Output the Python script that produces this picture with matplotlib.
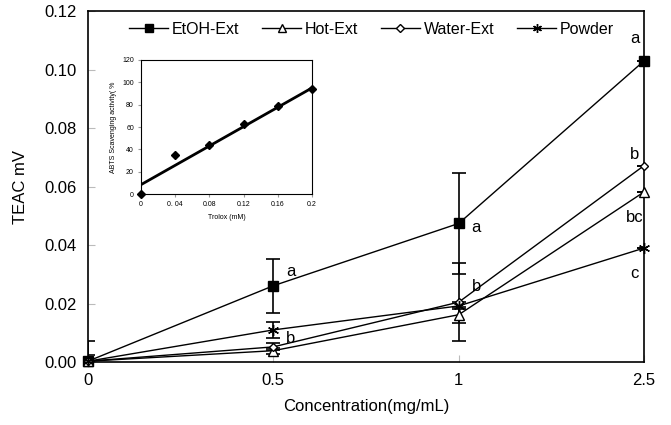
import numpy as np
import matplotlib.pyplot as plt
from matplotlib.lines import Line2D

plt.rcParams['font.family'] = ['Liberation Sans', 'DejaVu Sans']

conc_labels = ['0', '0.5', '1', '2.5']

etoh = [0.0003, 0.0261, 0.0474, 0.1030]
etoh_err = [0.0068, 0.0093, 0.0172, 0.0]
hot = [0.0003, 0.0039, 0.0162, 0.0582]
hot_err = [0.0, 0.0010, 0.0028, 0.0]
water = [0.0003, 0.0052, 0.0205, 0.0672]
water_err = [0.0022, 0.0012, 0.0133, 0.0]
powder = [0.0003, 0.0110, 0.0192, 0.0390]
powder_err = [0.0, 0.0028, 0.0012, 0.0]

# significance letters (concentration, y value, text)
letters = [
    (0.5, 0.0310, 'a'), (0.5, 0.0080, 'b'),
    (1, 0.0460, 'a'), (1, 0.0260, 'b'),
    (2.5, 0.1105, 'a'), (2.5, 0.0710, 'b'),
    (2.5, 0.0495, 'bc'), (2.5, 0.0303, 'c'),
]

# inset: Trolox standard curve
trolox = [0, 0.04, 0.08, 0.12, 0.16, 0.2]
abts = [0, 35, 44, 63, 79, 94]
fit_x = [0, 0.2]
fit_y = [8.5, 95]

fig = plt.figure(figsize=(6.71, 4.25), dpi=100)
ax = fig.add_axes([0.131, 0.148, 0.829, 0.826])
x = np.arange(len(conc_labels))

series = [
    ('EtOH-Ext', etoh, etoh_err, dict(marker='s', ms=6.5, mfc='black')),
    ('Hot-Ext', hot, hot_err, dict(marker='^', ms=6.5, mfc='white')),
    ('Water-Ext', water, water_err, dict(marker='D', ms=4.5, mfc='white')),
    ('Powder', powder, powder_err, dict(marker=(6, 2, 0), ms=8, mfc='black')),
]
handles = []
for name, vals, err, style in series:
    # error bars clipped to the axes, lines and markers not
    ax.errorbar(x, vals, yerr=err, fmt='none', ecolor='black',
                elinewidth=1.2, capsize=5, capthick=1.2, zorder=2)
    ax.plot(x, vals, color='black', lw=1, mec='black', mew=1,
            clip_on=False, zorder=3, **style)
    handles.append(Line2D([], [], color='black', lw=1, mec='black', mew=1,
                          label=name, **style))

xpos = {0.5: 1, 1: 2, 2.5: 3}
for xv, yv, t in letters:
    i = xpos[xv]
    if i < 3:
        ax.text(i + 0.07, yv, t, fontsize=12, ha='left', va='center')
    else:
        ax.text(i - 0.05, yv, t, fontsize=12, ha='center', va='center')

ax.set_xlim(0, 3)
ax.set_ylim(0, 0.12)
ax.set_xticks(x)
ax.set_xticklabels(conc_labels)
ax.set_yticks(np.arange(0, 0.121, 0.02))
ax.set_yticklabels([f'{v:.2f}' for v in np.arange(0, 0.121, 0.02)])
ax.tick_params(direction='in', length=5, color='#bbbbbb', labelsize=12, pad=8)
for s in ax.spines.values():
    s.set_linewidth(1.2)
ax.set_xlabel('Concentration(mg/mL)', fontsize=12, labelpad=8)
ax.set_ylabel('TEAC mV', fontsize=12, labelpad=12)
ax.legend(handles=handles, loc='upper center', ncol=4, frameon=False,
          fontsize=11.5, handlelength=2.4, columnspacing=1.45,
          handletextpad=0.25, markerscale=0.8, bbox_to_anchor=(0.51, 1.01))

ins = fig.add_axes([0.210, 0.543, 0.255, 0.316])
ins.plot(trolox, abts, 'D', color='black', ms=4, clip_on=False, zorder=3)
ins.plot(fit_x, fit_y, color='black', lw=2)
ins.set_xlim(0, 0.2)
ins.set_ylim(0, 120)
ins.set_xticks(trolox)
ins.set_xticklabels(['0', '0. 04', '0.08', '0.12', '0.16', '0.2'])
ins.set_yticks(range(0, 121, 20))
ins.tick_params(labelsize=5, length=2, color='#999999', pad=3)
ins.set_xlabel('Trolox (mM)', fontsize=5)
ins.set_ylabel('ABTS Scavenging activity( %', fontsize=5)

fig.savefig('out.png', dpi=100)
